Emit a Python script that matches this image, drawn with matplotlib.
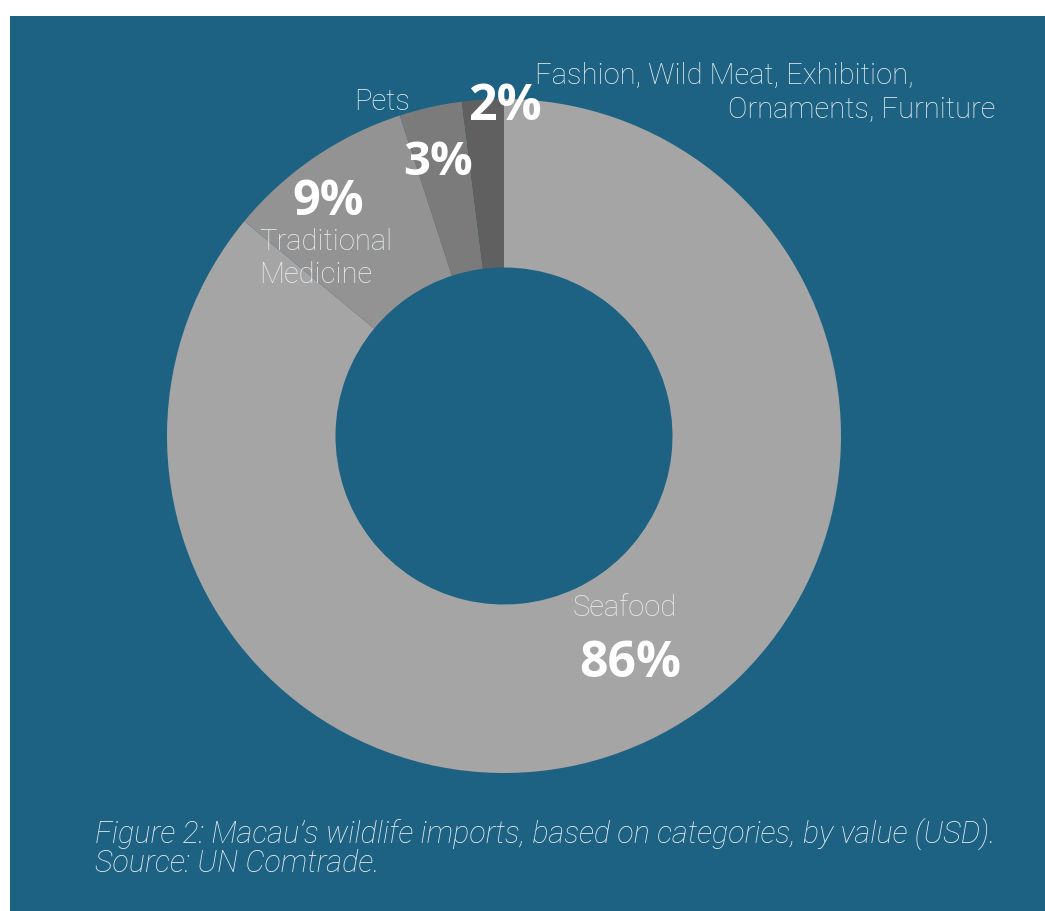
import matplotlib
matplotlib.use("Agg")
import matplotlib.pyplot as plt
from matplotlib.patches import Rectangle

categories = ["Seafood", "Traditional Medicine", "Pets",
              "Fashion, Wild Meat, Exhibition, Ornaments, Furniture"]
shares = [86, 9, 3, 2]
pct_labels = ["86%", "9%", "3%", "2%"]
colors = ["#a5a5a5", "#939393", "#7b7b7b", "#606060"]
BG = "#1e6283"

W, H = 1045, 911
fig = plt.figure(figsize=(W / 100, H / 100), dpi=100, facecolor="white")
fig.patches.append(Rectangle((10 / W, 0), 1 - 10 / W, 1 - 16 / H,
                             transform=fig.transFigure, facecolor=BG,
                             edgecolor="none", zorder=-5))

cx, cy, r = 504, 436, 337
ax = fig.add_axes([(cx - r) / W, 1 - (cy + r) / H, 2 * r / W, 2 * r / H])
ax.set_zorder(2)
ax.set_facecolor("none")
ax.pie(shares, colors=colors, startangle=90, counterclock=False, radius=1,
       wedgeprops=dict(width=0.5, linewidth=0))
ax.set_xlim(-1, 1)
ax.set_ylim(-1, 1)
ax.set_aspect("equal")
ax.axis("off")


def px(x, y):
    return x / W, 1 - y / H


label_kw = dict(family="Roboto", weight="light", color="#e8eef2", fontsize=21, zorder=5)
pct_kw = dict(family="Open Sans", weight="bold", color="white", zorder=5)

# Category labels
fig.text(*px(573, 616), "Seafood", ha="left", va="baseline", **label_kw)
fig.text(*px(259, 250), "Traditional", ha="left", va="baseline", **label_kw)
fig.text(*px(259, 283), "Medicine", ha="left", va="baseline", **label_kw)
fig.text(*px(354, 110), "Pets", ha="left", va="baseline", **label_kw)
fig.text(*px(535, 84), "Fashion, Wild Meat, Exhibition,", ha="left", va="baseline", **label_kw)
fig.text(*px(995, 118), "Ornaments, Furniture", ha="right", va="baseline", **label_kw)

# Percent labels
fig.text(*px(630, 677), pct_labels[0], ha="center", va="baseline", fontsize=36, **pct_kw)
fig.text(*px(328, 215), pct_labels[1], ha="center", va="baseline", fontsize=35, **pct_kw)
fig.text(*px(438, 175), pct_labels[2], ha="center", va="baseline", fontsize=34, **pct_kw)
fig.text(*px(505, 120), pct_labels[3], ha="center", va="baseline", fontsize=36, **pct_kw)

# Caption
cap_kw = dict(family="Roboto", weight="light", style="italic", color="#e8eef2", fontsize=22, zorder=5)
fig.text(*px(95, 843), "Figure 2: Macau\u2019s wildlife imports, based on categories, by value (USD).",
         ha="left", va="baseline", **cap_kw)
fig.text(*px(95, 872), "Source: UN Comtrade.", ha="left", va="baseline", **cap_kw)

fig.savefig("out.png", dpi=100, facecolor="white")
